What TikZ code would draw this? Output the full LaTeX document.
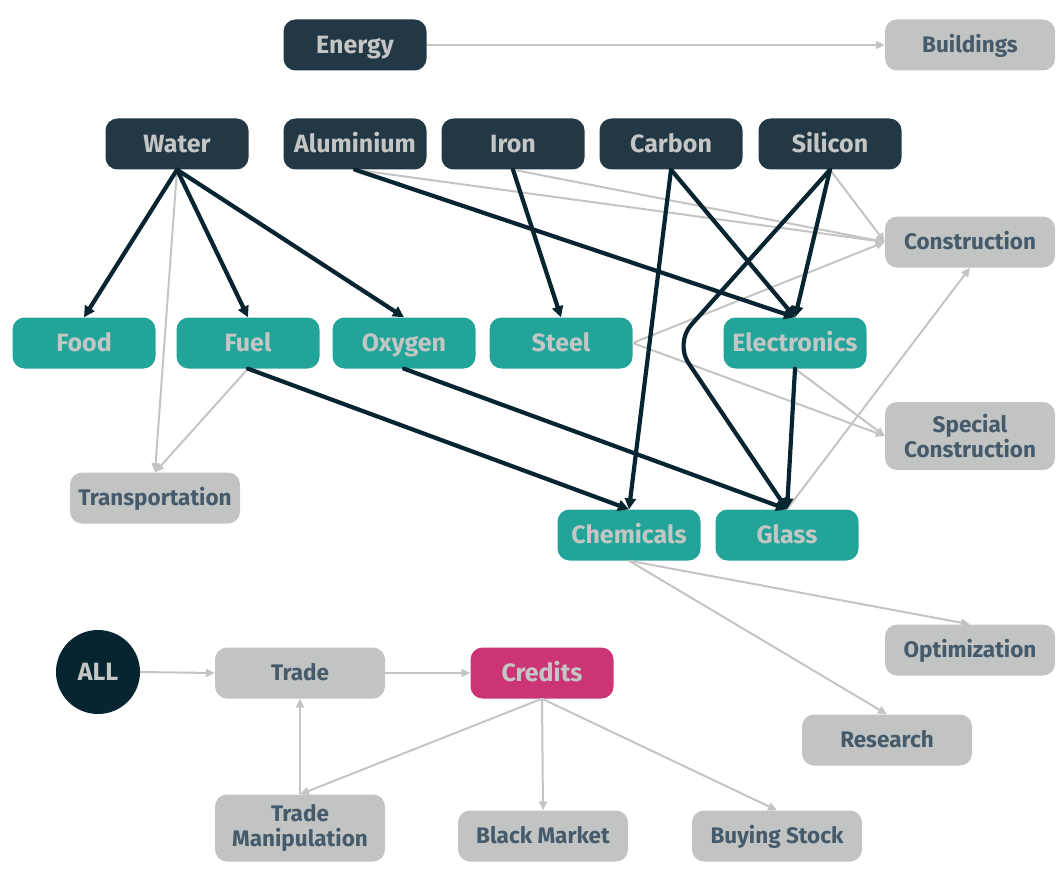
\documentclass[tikz,border=0pt]{standalone}
\usepackage{fontspec}
\setmainfont{Fira Sans}
\usetikzlibrary{arrows.meta}
\definecolor{rawfill}{HTML}{233845}
\definecolor{madefill}{HTML}{22A598}
\definecolor{usefill}{HTML}{C2C4C3}
\definecolor{creditfill}{HTML}{CC3575}
\definecolor{allfill}{HTML}{072530}
\definecolor{lighttext}{HTML}{C4C6C5}
\definecolor{slatetext}{HTML}{455A6A}
\definecolor{heavyline}{HTML}{072530}
\definecolor{lightline}{HTML}{C4C4C4}
\begin{document}
\begin{tikzpicture}[x=1pt,y=-1pt,
  box/.style={rounded corners=12pt, minimum width=143pt, minimum height=51pt,
    inner sep=0pt, align=center},
  bigtext/.style={font=\fontsize{25}{27}\selectfont\bfseries, text height=17pt, text depth=0.5pt},
  smalltext/.style={font=\fontsize{22.5}{25.5}\selectfont\bfseries, text height=16pt, text depth=0.5pt},
  twoline/.style={text height=, text depth=},
  raw/.style={box, bigtext, fill=rawfill, text=lighttext},
  made/.style={box, bigtext, fill=madefill, text=lighttext},
  use/.style={box, smalltext, fill=usefill, text=slatetext, minimum width=170pt},
  credit/.style={box, bigtext, fill=creditfill, text=lighttext},
  heavy/.style={draw=heavyline, line width=4.2pt, line cap=round,
    -{Triangle[length=11pt,width=11pt]}},
  light/.style={draw=lightline, line width=2pt,
    -{Triangle[length=9pt,width=8pt]}}]
\useasboundingbox (0,0) rectangle (1064,869);

% raw resources
\node[raw] (energy) at (355,45) {Energy};
\node[raw] (water) at (177,144) {Water};
\node[raw] (alu) at (355,144) {Aluminium};
\node[raw] (iron) at (513,144) {Iron};
\node[raw] (carbon) at (671,144) {Carbon};
\node[raw] (silicon) at (830,144) {Silicon};

% processed goods
\node[made] (food) at (84,343) {Food};
\node[made] (fuel) at (248,343) {Fuel};
\node[made] (oxygen) at (404,343) {Oxygen};
\node[made] (steel) at (561,343) {Steel};
\node[made] (electronics) at (795,343) {Electronics};
\node[made] (chemicals) at (629,535) {Chemicals};
\node[made] (glass) at (787,535) {Glass};

% uses
\node[use] (buildings) at (970,45) {Buildings};
\node[use] (construction) at (970,242) {Construction};
\node[use, twoline, minimum height=68pt] (special) at (970,436) {Special\\Construction};
\node[use] (transport) at (155,498) {Transportation};
\node[use] (optim) at (970,650) {Optimization};
\node[use] (research) at (887,740) {Research};

% economy
\node[circle, bigtext, fill=allfill, text=lighttext, minimum size=84pt, inner sep=0pt] (all) at (98,672) {ALL};
\node[use] (trade) at (300,673) {Trade};
\node[credit] (credits) at (542,673) {Credits};
\node[use, twoline, minimum height=67pt] (manip) at (300,828) {Trade\\Manipulation};
\node[use] (black) at (543,836) {Black Market};
\node[use] (stock) at (777,836) {Buying Stock};

\coordinate (bend) at (675,343);

% light connectors
\draw[light] (energy.east) -- (buildings.west);
\draw[light] (alu.south) -- (construction.west);
\draw[light] (iron.south) -- (construction.west);
\draw[light] (silicon.south) -- (construction.west);
\draw[light] (steel.east) -- (construction.west);
\draw[light] (steel.east) -- (special.west);
\draw[light] (electronics.south) -- (special.west);
\draw[light] (glass.north) -- (construction.south);
\draw[light] (water.south) -- (transport.north);
\draw[light] (fuel.south) -- (transport.north);
\draw[light] (chemicals.south) -- (optim.north);
\draw[light] (chemicals.south) -- (research.north);
\draw[light] (all.east) -- (trade.west);
\draw[light] (trade.east) -- (credits.west);
\draw[light] (credits.south) -- (manip.north);
\draw[light] (manip.north) -- (trade.south);
\draw[light] (credits.south) -- (black.north);
\draw[light] (credits.south) -- (stock.north);

% heavy connectors
\draw[heavy] (water.south) -- (food.north);
\draw[heavy] (water.south) -- (fuel.north);
\draw[heavy] (water.south) -- (oxygen.north);
\draw[heavy] (alu.south) -- (electronics.north);
\draw[heavy] (iron.south) -- (steel.north);
\draw[heavy] (carbon.south) -- (chemicals.north);
\draw[heavy] (carbon.south) -- (electronics.north);
\draw[heavy] (silicon.south) -- (electronics.north);
\draw[heavy, rounded corners=24pt] (silicon.south) -- (bend) -- (glass.north);
\draw[heavy] (electronics.south) -- (glass.north);
\draw[heavy] (fuel.south) -- (chemicals.north);
\draw[heavy] (oxygen.south) -- (glass.north);
\end{tikzpicture}
\end{document}
